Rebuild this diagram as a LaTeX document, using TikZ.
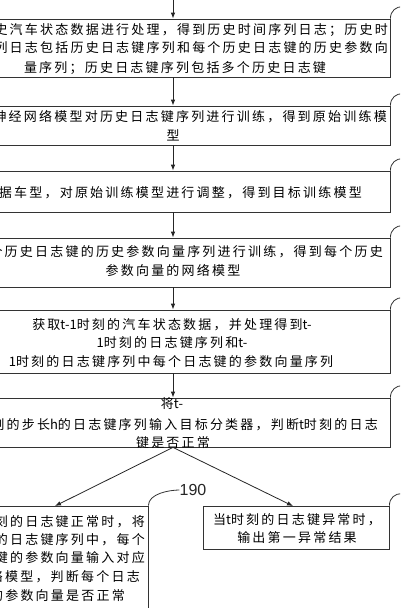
\documentclass[tikz,border=0pt]{standalone}
\usepackage{fontspec}
\usetikzlibrary{arrows.meta}
\newfontfamily\cjk{Noto Sans CJK SC}[LetterSpace=17]
\newfontfamily\cjkl{Noto Sans CJK SC}
\newfontfamily\numfont{Liberation Sans}
\newcommand\la[1]{{\cjkl #1}}
\begin{document}
\begin{tikzpicture}[x=1pt,y=-1pt,
  box/.style={draw=black!80,line width=0.8pt,rectangle,inner sep=0pt},
  txt/.style={inner sep=0pt,font=\cjk\fontsize{13}{15}\selectfont,text=black},
  arr/.style={draw=black!85,line width=0.8pt,-{Latex[length=6pt,width=4.5pt]}},
  lead/.style={draw=black!80,line width=0.8pt}]
\useasboundingbox (0,0) rectangle (400,608);
\clip (0,0) rectangle (400,608);
\fill[white] (0,0) rectangle (400,608);
% boxes
\node[box,minimum width=434pt,minimum height=58pt] (b1) at (173,48) {};
\node[box,minimum width=434pt,minimum height=39pt] (b2) at (173,125.5) {};
\node[box,minimum width=434pt,minimum height=41pt] (b3) at (173,191.5) {};
\node[box,minimum width=434pt,minimum height=49pt] (b4) at (173,262.5) {};
\node[box,minimum width=434pt,minimum height=63pt] (b5) at (173,341.5) {};
\node[box,minimum width=434pt,minimum height=49pt] (b6) at (173,422.5) {};
\node[box,minimum width=210pt,minimum height=140pt] (bL) at (43,576) {};
\node[box,minimum width=186pt,minimum height=43pt] (bR) at (296,527.5) {};
% texts
\node[txt,anchor=east] (t1a) at (388,30) {对历史汽车状态数据进行处理，得到历史时间序列日志；历史时};
\node[txt,anchor=east] (t1b) at (388,48) {间序列日志包括历史日志键序列和每个历史日志键的历史参数向};
\node[txt] (t1c) at (175,68) {量序列；历史日志键序列包括多个历史日志键};
\node[txt,anchor=east] (t2a) at (387,117) {利用神经网络模型对历史日志键序列进行训练，得到原始训练模};
\node[txt] (t2b) at (173,135) {型};
\node[txt,anchor=east] (t3a) at (362,193) {根据车型，对原始训练模型进行调整，得到目标训练模型};
\node[txt,anchor=east] (t4a) at (383,252) {对每个历史日志键的历史参数向量序列进行训练，得到每个历史};
\node[txt] (t4b) at (173,270) {参数向量的网络模型};
\node[txt] (t5a) at (172,325) {获取\la{t-1}时刻的汽车状态数据，并处理得到\la{t-}};
\node[txt] (t5b) at (172,343) {\la{1}时刻的日志键序列和\la{t-}};
\node[txt] (t5c) at (171,362) {\la{1}时刻的日志键序列中每个日志键的参数向量序列};
\node[txt] (t6a) at (172,404) {将\la{t-}};
\node[txt,anchor=east] (t6b) at (378,425) {\la{1}时刻的步长\la{h}的日志键序列输入目标分类器，判断\la{t}时刻的日志};
\node[txt] (t6c) at (173,443) {键是否正常};
\node[txt] (tRa) at (297,520) {当\la{t}时刻的日志键异常时，};
\node[txt] (tRb) at (297,538) {输出第一异常结果};
\node[txt,anchor=east] (tLa) at (145,522) {当\la{t}时刻的日志键正常时，将};
\node[txt,anchor=east] (tLb) at (145,540) {\la{t-1}时刻的日志键序列中，每个};
\node[txt,anchor=east] (tLc) at (145,558) {日志键的参数向量输入对应};
\node[txt,anchor=east] (tLd) at (140,577) {的网络模型，判断每个日志};
\node[txt,anchor=east] (tLe) at (125,596) {键的参数向量是否正常};
% arrows
\coordinate (top) at (173,0);
\coordinate (tipL) at (55,506);
\coordinate (tipR) at (293,506);
\draw[arr] (top) -- (b1.north);
\draw[arr] (b1.south) -- (b2.north);
\draw[arr] (b2.south) -- (b3.north);
\draw[arr] (b3.south) -- (b4.north);
\draw[arr] (b4.south) -- (b5.north);
\draw[arr] (b5.south) -- (b6.north);
\draw[arr] (b6.south) -- (tipL);
\draw[arr] (b6.south) -- (tipR);
% leaders
\foreach \b in {b1,b2,b3,b4,b5,b6,bR}{
  \draw[lead] (\b.north east) .. controls ++(0,-8) and ++(-6,0) .. ++(12,-12);
}
\node[inner sep=0pt,font=\numfont\fontsize{16}{18}\selectfont,text=black!85] (n190) at (193,490) {190};
\draw[lead] (bL.north east) .. controls ++(0,-12) and ++(-10,0) .. (n190.west);
\end{tikzpicture}
\end{document}
